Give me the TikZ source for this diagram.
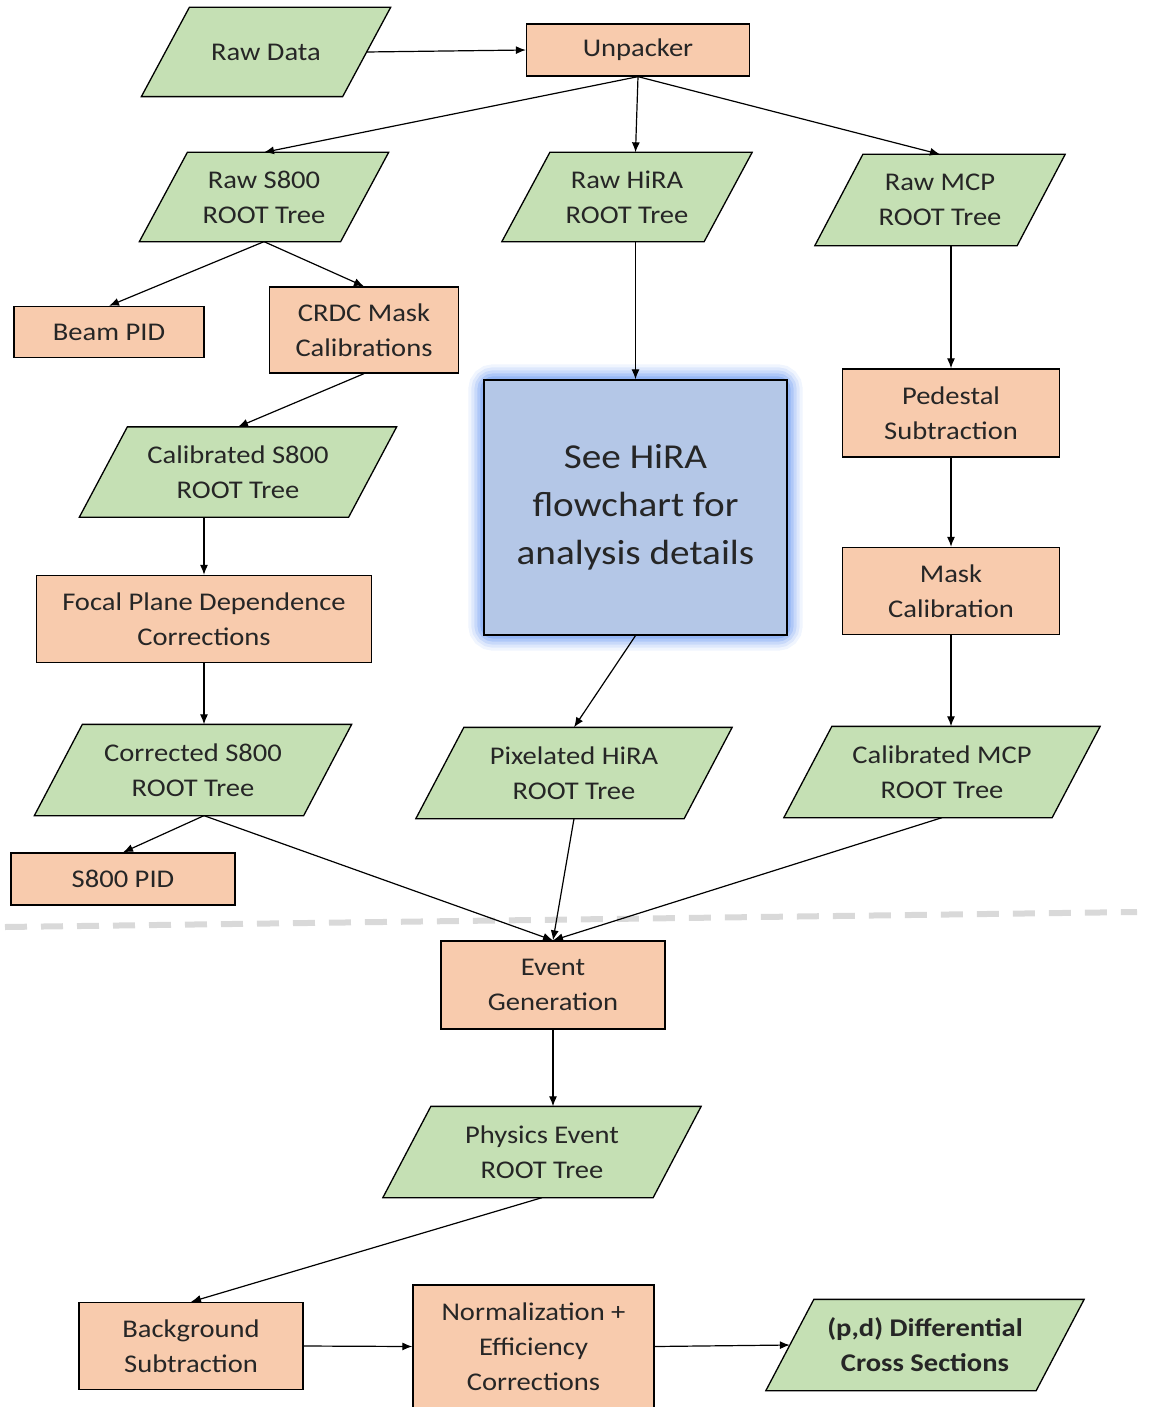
\documentclass[tikz,border=0pt]{standalone}
\usepackage{fontspec}
\setmainfont{Carlito}[FakeStretch=1.12]
\usetikzlibrary{arrows.meta,backgrounds}

\definecolor{datagreen}{HTML}{C5E0B4}
\definecolor{procorange}{HTML}{F8CBAD}
\definecolor{noteblue}{HTML}{B4C7E7}
\definecolor{glowblue}{HTML}{6F9CF2}

\tikzset{
  box/.style={line width=1.3pt, align=center, inner sep=0pt, text=black!85,
    font=\fontsize{25.5}{35}\selectfont},
  proc/.style={box, draw, rectangle, fill=procorange},
  data/.style={box, rectangle},
  datashape/.style={draw, line width=1.3pt, fill=datagreen},
  note/.style={box, draw, rectangle, fill=noteblue, font=\fontsize{35}{48}\selectfont},
  flow/.style={-{Latex[length=10pt,width=8pt]}, line width=1.2pt},
}

\begin{document}
\begin{tikzpicture}[x=1pt,y=-1pt]
  \useasboundingbox (0,0) rectangle (1153,1407);

  % separator
  \draw[gray!30, line width=6pt, dash pattern=on 22pt off 14pt] (5,927) -- (1137,912);

  % top row
  \node[data, minimum width=248pt, minimum height=88pt] (rawdata) at (266,52) {Raw Data};
  \node[proc, minimum width=223pt, minimum height=52pt] (unpacker) at (638,50) {Unpacker};

  % raw trees
  \node[data, minimum width=248pt, minimum height=88pt] (rawS800) at (264,197) {Raw S800\\ROOT Tree};
  \node[data, minimum width=249pt, minimum height=88pt] (rawHiRA) at (627,197) {Raw HiRA\\ROOT Tree};
  \node[data, minimum width=249pt, minimum height=90pt] (rawMCP) at (940,200) {Raw MCP\\ROOT Tree};

  % S800 branch
  \node[proc, minimum width=190pt, minimum height=51pt] (beamPID) at (109,332) {Beam PID};
  \node[proc, minimum width=189pt, minimum height=86pt] (crdc) at (364,330) {CRDC Mask\\Calibrations};
  \node[data, minimum width=316pt, minimum height=89pt] (calS800) at (238,472) {Calibrated S800\\ROOT Tree};
  \node[proc, minimum width=335pt, minimum height=87pt] (focal) at (204,619) {Focal Plane Dependence\\Corrections};
  \node[data, minimum width=316pt, minimum height=90pt] (corrS800) at (193,770) {Corrected S800\\ROOT Tree};
  \node[proc, minimum width=224pt, minimum height=52pt] (s800PID) at (123,879) {S800 PID};

  % HiRA branch
  \node[note, minimum width=303pt, minimum height=255pt] (hiranote) at (635.5,507.5) {See HiRA\\flowchart for\\analysis details};
  \node[data, minimum width=315pt, minimum height=90pt] (pixHiRA) at (574,773) {Pixelated HiRA\\ROOT Tree};

  % MCP branch
  \node[proc, minimum width=217pt, minimum height=88pt] (pedestal) at (951,413) {Pedestal\\Subtraction};
  \node[proc, minimum width=217pt, minimum height=87pt] (mask) at (951,591) {Mask\\Calibration};
  \node[data, minimum width=315pt, minimum height=90pt] (calMCP) at (942,772) {Calibrated MCP\\ROOT Tree};

  % physics
  \node[proc, minimum width=224pt, minimum height=88pt] (event) at (553,985) {Event\\Generation};
  \node[data, minimum width=317pt, minimum height=90pt] (physics) at (542,1152) {Physics Event\\ROOT Tree};
  \node[proc, minimum width=224pt, minimum height=87pt] (background) at (191,1346) {Background\\Subtraction};
  \node[proc, minimum width=241pt, minimum height=123pt] (norm) at (533.5,1346.5) {Normalization +\\Efficiency\\Corrections};
  \node[data, minimum width=317pt, minimum height=90pt, font=\fontsize{25.5}{35}\selectfont\bfseries] (xsec) at (925,1345) {(p,d) Differential\\Cross Sections};

  % parallelograms and glow behind the text
  \begin{scope}[on background layer]
    \foreach \n in {rawdata,rawS800,rawHiRA,rawMCP,calS800,corrS800,pixHiRA,calMCP,physics,xsec}
      \draw[datashape] (\n.south west) -- ([xshift=48pt]\n.north west) -- (\n.north east)
        -- ([xshift=-48pt]\n.south east) -- cycle;
    \foreach \w/\o in {30/0.10,24/0.14,18/0.2,12/0.28,6/0.4}
      \draw[glowblue, line width=\w pt, opacity=\o, rounded corners=10pt]
        (hiranote.north west) rectangle (hiranote.south east);
  \end{scope}

  % connectors
  \draw[flow] ([xshift=-24pt]rawdata.east) -- (unpacker.west);
  \draw[flow] (unpacker.south) -- (rawS800.north);
  \draw[flow] (unpacker.south) -- (hiranote.north |- rawHiRA.north);
  \draw[flow] (unpacker.south) -- (rawMCP.north);
  \draw[flow] (rawS800.south) -- (beamPID.north);
  \draw[flow] (rawS800.south) -- (crdc.north);
  \draw[flow] (crdc.south) -- (calS800.north);
  \draw[flow] (focal.north |- calS800.south) -- (focal.north);
  \draw[flow] (focal.south) -- (focal.south |- corrS800.north);
  \draw[flow] (focal.south |- corrS800.south) -- (s800PID.north);
  \draw[flow] (focal.south |- corrS800.south) -- (event.north);
  \draw[flow] (hiranote.north |- rawHiRA.south) -- (hiranote.north);
  \draw[flow] (hiranote.south) -- (pixHiRA.north);
  \draw[flow] (pixHiRA.south) -- (event.north);
  \draw[flow] (pedestal.north |- rawMCP.south) -- (pedestal.north);
  \draw[flow] (pedestal.south) -- (mask.north);
  \draw[flow] (mask.south) -- (mask.south |- calMCP.north);
  \draw[flow] (calMCP.south) -- (event.north);
  \draw[flow] (event.south) -- (event.south |- physics.north);
  \draw[flow] (physics.south) -- (background.north);
  \draw[flow] (background.east) -- (norm.west);
  \draw[flow] (norm.east) -- ([xshift=24pt]xsec.west);
\end{tikzpicture}
\end{document}
